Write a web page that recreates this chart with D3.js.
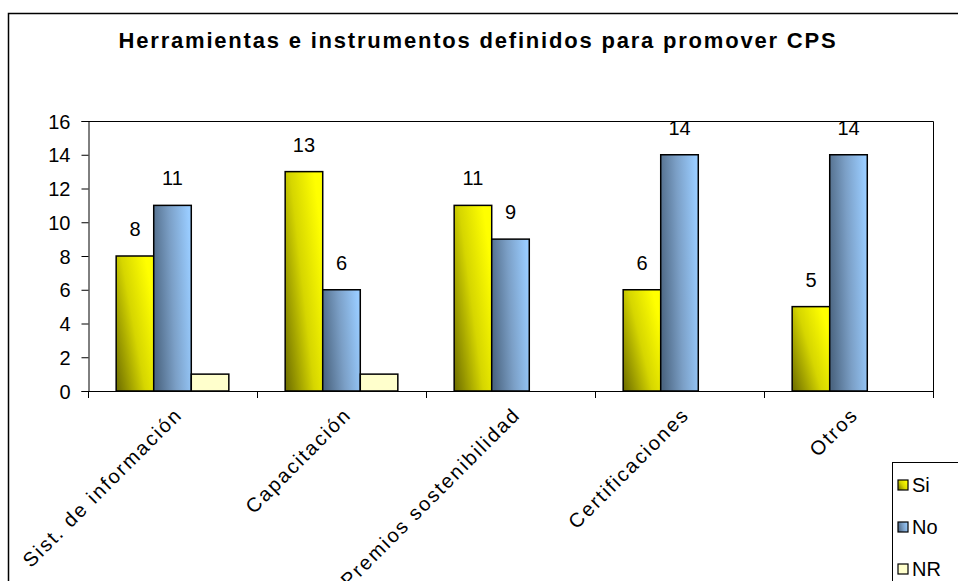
<!DOCTYPE html>
<html lang="es">
<head>
<meta charset="UTF-8">
<title>Herramientas e instrumentos</title>
<script src="https://d3js.org/d3.v7.min.js"></script>
<style>
  body { margin: 0; background: #fff; }
  text { font-family: Arial, "Liberation Sans", sans-serif; fill: #000; }
</style>
</head>
<body>
<svg width="958" height="581"></svg>
<script>
var categories = ["Sist. de información", "Capacitación", "Premios sostenibilidad", "Certificaciones", "Otros"];
var seriesNames = ["Si", "No", "NR"];
var si = [8, 13, 11, 6, 5];
var no = [11, 6, 9, 14, 14];
var nr = [1, 1, 0, 0, 0];
var yTicks = [0, 2, 4, 6, 8, 10, 12, 14, 16];

var svg = d3.select("svg");
var plotL = 88, plotR = 933, plotT = 121, plotB = 391;

// outer chart frame (runs off the right and bottom edges)
svg.append("path")
    .attr("d", "M8.5,590 V13.5 H970")
    .attr("fill", "none").attr("stroke", "#000").attr("stroke-width", 1.5);

svg.append("text")
    .attr("x", 478).attr("y", 48)
    .attr("text-anchor", "middle")
    .style("font-size", "22px").style("font-weight", "bold").style("letter-spacing", "1.8px")
    .text("Herramientas e instrumentos definidos para promover CPS");

var defs = svg.append("defs");
var gy = defs.append("linearGradient").attr("id", "gSi")
    .attr("x1", "0").attr("y1", "1").attr("x2", "1").attr("y2", "0.35");
gy.append("stop").attr("offset", "0").attr("stop-color", "#6b6b00");
gy.append("stop").attr("offset", "0.55").attr("stop-color", "#d6d600");
gy.append("stop").attr("offset", "1").attr("stop-color", "#ffff00");
var gb = defs.append("linearGradient").attr("id", "gNo")
    .attr("x1", "0").attr("y1", "0.6").attr("x2", "1").attr("y2", "0.4");
gb.append("stop").attr("offset", "0").attr("stop-color", "#4d6783");
gb.append("stop").attr("offset", "0.5").attr("stop-color", "#7b9fc6");
gb.append("stop").attr("offset", "1").attr("stop-color", "#99ccff");
var fills = ["url(#gSi)", "url(#gNo)", "#ffffcc"];

var x = d3.scaleBand().domain(categories).range([plotL, plotR]);
var xs = d3.scaleBand().domain(seriesNames).range([0, x.bandwidth()]).paddingOuter(0.75);
var y = d3.scaleLinear().domain([0, 16]).range([plotB, plotT]);

// plot area border
svg.append("path")
    .attr("d", "M" + plotL + "," + (plotT + 0.5) + " H" + (plotR + 0.5) + " V" + plotB)
    .attr("fill", "none").attr("stroke", "#000").attr("stroke-width", 1);

// y axis
var ya = svg.append("g").attr("transform", "translate(" + (plotL + 0.5) + ",0)")
    .call(d3.axisLeft(y).tickValues(yTicks).tickSize(7).tickPadding(11));
ya.select(".domain").attr("stroke", "#000");
ya.selectAll("line").attr("stroke", "#000");
ya.selectAll("text").attr("font-family", null).style("font-size", "20px").attr("dy", "0.36em");

// x axis, ticks between categories
var xa = svg.append("g").attr("transform", "translate(0," + plotB + ")");
xa.append("line").attr("x1", plotL).attr("x2", plotR).attr("y1", 0.5).attr("y2", 0.5).attr("stroke", "#000");
var bounds = categories.map(function (c) { return x(c); }).concat([plotR]);
xa.selectAll(".tk").data(bounds).enter().append("line")
    .attr("x1", function (d) { return d + 0.5; }).attr("x2", function (d) { return d + 0.5; })
    .attr("y1", 0).attr("y2", 7).attr("stroke", "#000");
xa.selectAll(".cl").data(categories).enter().append("text")
    .attr("text-anchor", "end")
    .attr("transform", function (d) { return "translate(" + (x(d) + x.bandwidth() / 2 + 11) + ",25) rotate(-45)"; })
    .style("font-size", "20px").style("letter-spacing", "2px")
    .text(function (d) { return d; });

// bars and value labels
var series = [si, no, nr];
series.forEach(function (vals, s) {
    vals.forEach(function (v, i) {
        if (v <= 0) return;
        svg.append("rect")
            .attr("x", x(categories[i]) + xs(seriesNames[s]))
            .attr("y", y(v))
            .attr("width", xs.bandwidth())
            .attr("height", plotB - y(v))
            .attr("fill", fills[s]).attr("stroke", "#000").attr("stroke-width", 1.5);
        if (s < 2) {
            svg.append("text")
                .attr("x", x(categories[i]) + xs(seriesNames[s]) + xs.bandwidth() / 2)
                .attr("y", y(v) - 20)
                .attr("text-anchor", "middle")
                .style("font-size", "20px")
                .text(v);
        }
    });
});

// legend
var lg = svg.append("g").attr("transform", "translate(892,462)");
lg.append("rect").attr("x", 0.5).attr("y", 0.5).attr("width", 100).attr("height", 140)
    .attr("fill", "#fff").attr("stroke", "#000").attr("stroke-width", 1);
seriesNames.forEach(function (n, i) {
    var yy = 23 + i * 42;
    lg.append("rect").attr("x", 6).attr("y", yy - 5).attr("width", 10).attr("height", 10)
        .attr("fill", fills[i]).attr("stroke", "#000").attr("stroke-width", 1.2);
    lg.append("text").attr("x", 20).attr("y", yy + 7).style("font-size", "20px").text(n);
});
</script>
</body>
</html>
